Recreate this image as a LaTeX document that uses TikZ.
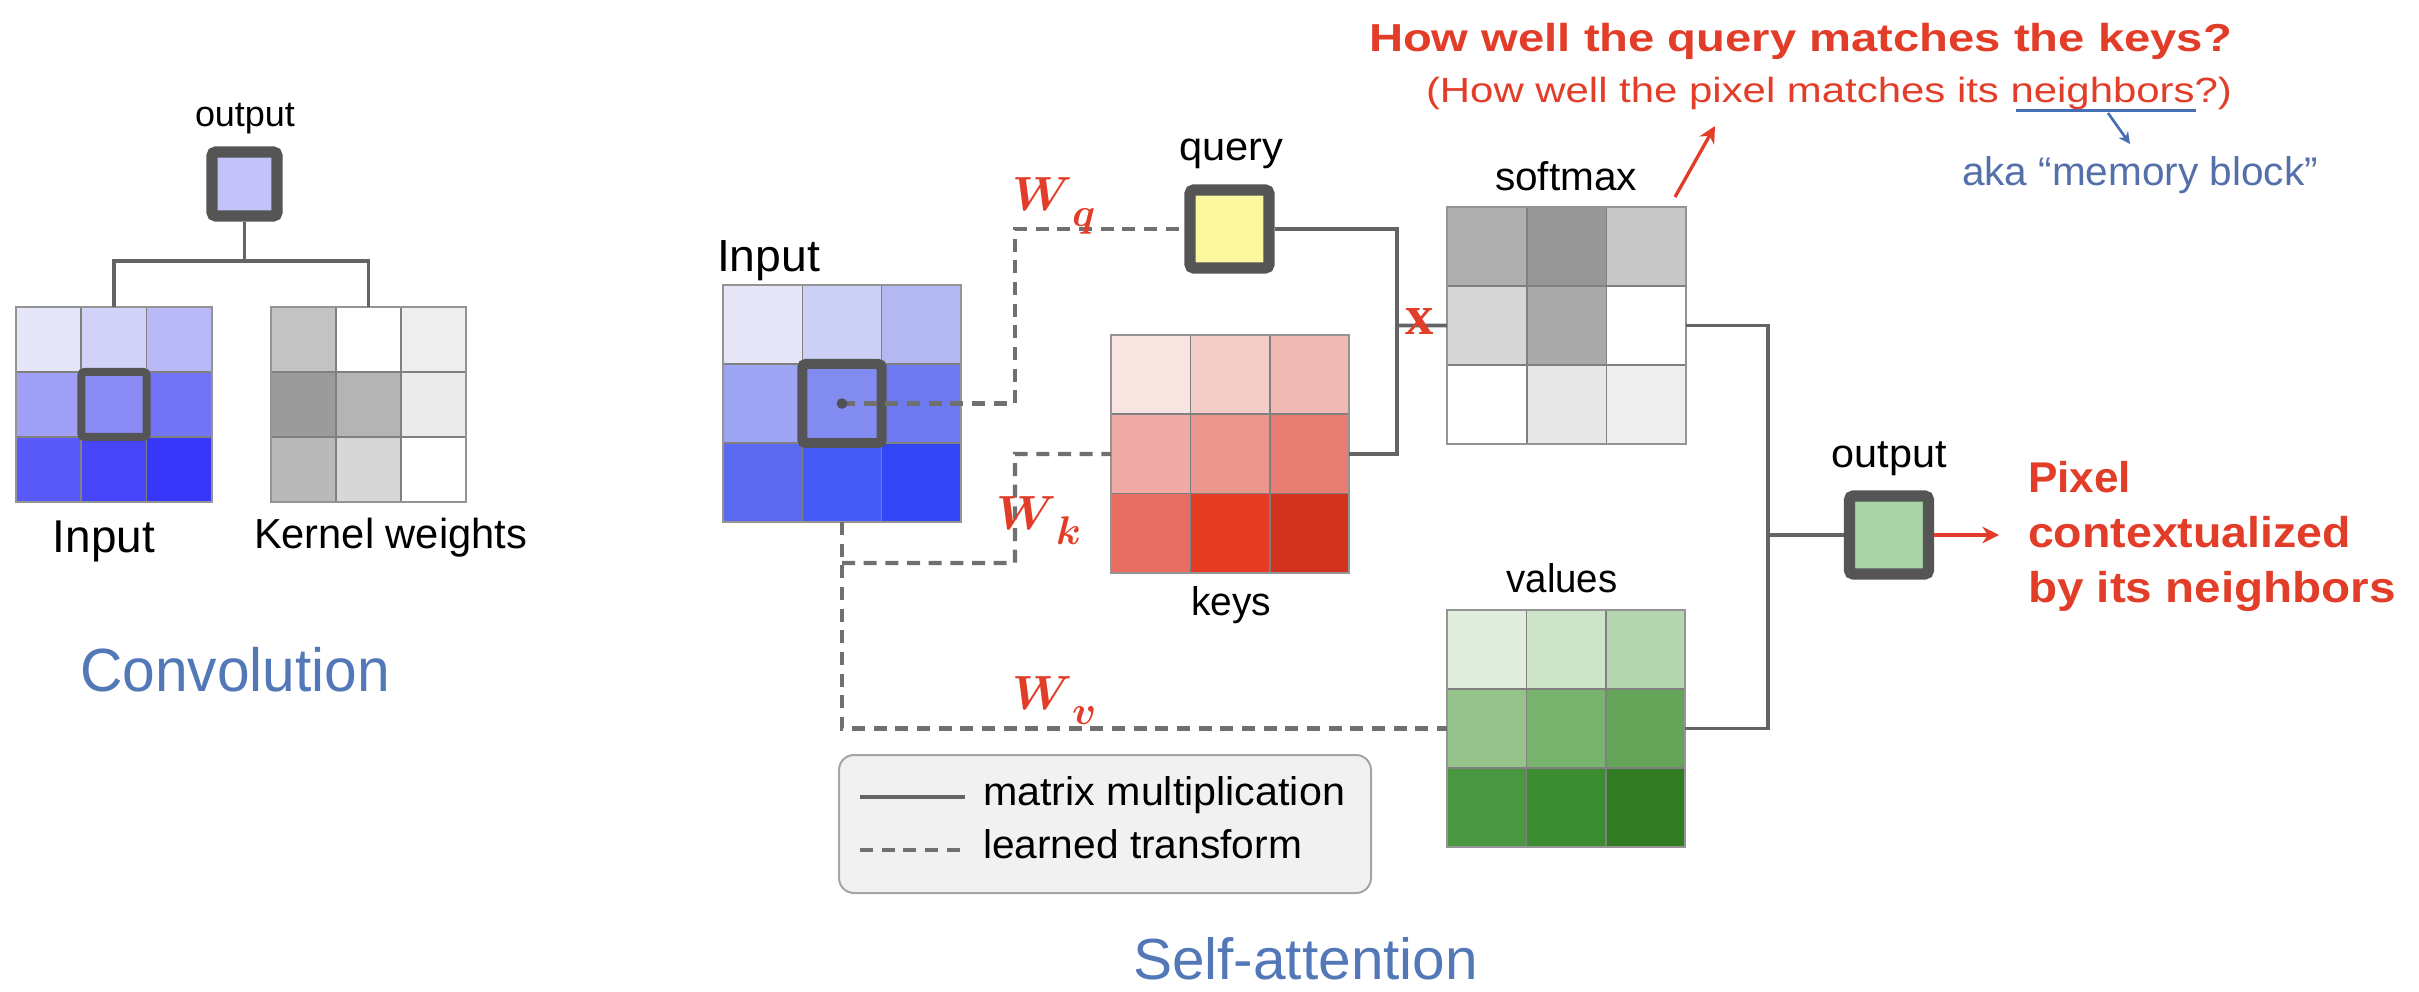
\documentclass[tikz,border=0pt]{standalone}
\usepackage{fontspec}
\setmainfont{Liberation Sans}
\newfontfamily\seriffont{Liberation Serif}
\usepackage{graphicx}
\usepackage{bm}
\usetikzlibrary{fit,arrows.meta}

% one drawing unit = 0.3pt
\newdimen\U \U=0.3pt
\newcommand\fitto[2]{\resizebox{#1\U}{\height}{#2}}
% bold weight symbol with a large lowered index
\newcommand\wsym[1]{$\bm{W}$\raisebox{-0.32em}{\fontsize{11.5}{12}\selectfont$\bm{#1}$}}

% line and label colours
\definecolor{boxgray}{RGB}{85,85,85}
\definecolor{conn}{RGB}{100,100,100}
\definecolor{dconn}{RGB}{112,112,112}
\definecolor{hlred}{RGB}{226,61,40}
\definecolor{titleblue}{RGB}{82,120,184}
\definecolor{akablue}{RGB}{84,112,170}
\definecolor{ulblue}{RGB}{70,110,180}
\definecolor{convout}{RGB}{195,195,250}
\definecolor{qyellow}{RGB}{252,248,160}
\definecolor{outgreen}{RGB}{168,212,165}
\definecolor{legendfill}{RGB}{241,241,241}
\definecolor{legendedge}{RGB}{165,165,165}
\definecolor{dotgray}{RGB}{80,80,85}

% convolution input
\definecolor{ci11}{RGB}{230,230,250}\definecolor{ci12}{RGB}{210,210,248}\definecolor{ci13}{RGB}{185,185,248}
\definecolor{ci21}{RGB}{160,160,248}\definecolor{ci22}{RGB}{138,138,245}\definecolor{ci23}{RGB}{115,115,245}
\definecolor{ci31}{RGB}{90,90,248}\definecolor{ci32}{RGB}{70,70,248}\definecolor{ci33}{RGB}{55,55,250}
% kernel weights
\definecolor{kw11}{RGB}{195,195,195}\definecolor{kw12}{RGB}{255,255,255}\definecolor{kw13}{RGB}{238,238,238}
\definecolor{kw21}{RGB}{155,155,155}\definecolor{kw22}{RGB}{180,180,180}\definecolor{kw23}{RGB}{235,235,235}
\definecolor{kw31}{RGB}{185,185,185}\definecolor{kw32}{RGB}{215,215,215}\definecolor{kw33}{RGB}{255,255,255}
% self-attention input
\definecolor{si11}{RGB}{230,230,248}\definecolor{si12}{RGB}{205,208,245}\definecolor{si13}{RGB}{180,184,242}
\definecolor{si21}{RGB}{158,165,245}\definecolor{si22}{RGB}{130,140,240}\definecolor{si23}{RGB}{110,122,240}
\definecolor{si31}{RGB}{90,105,240}\definecolor{si32}{RGB}{70,90,245}\definecolor{si33}{RGB}{50,70,245}
% keys
\definecolor{ky11}{RGB}{248,228,225}\definecolor{ky12}{RGB}{245,205,200}\definecolor{ky13}{RGB}{240,185,180}
\definecolor{ky21}{RGB}{240,170,165}\definecolor{ky22}{RGB}{235,150,140}\definecolor{ky23}{RGB}{232,125,115}
\definecolor{ky31}{RGB}{232,110,100}\definecolor{ky32}{RGB}{230,60,35}\definecolor{ky33}{RGB}{210,50,30}
% softmax
\definecolor{sm11}{RGB}{175,175,175}\definecolor{sm12}{RGB}{150,150,150}\definecolor{sm13}{RGB}{200,200,200}
\definecolor{sm21}{RGB}{215,215,215}\definecolor{sm22}{RGB}{170,170,170}\definecolor{sm23}{RGB}{255,255,255}
\definecolor{sm31}{RGB}{255,255,255}\definecolor{sm32}{RGB}{232,232,232}\definecolor{sm33}{RGB}{238,238,238}
% values
\definecolor{vl11}{RGB}{225,238,222}\definecolor{vl12}{RGB}{205,228,200}\definecolor{vl13}{RGB}{180,215,175}
\definecolor{vl21}{RGB}{150,195,140}\definecolor{vl22}{RGB}{120,180,110}\definecolor{vl23}{RGB}{100,165,90}
\definecolor{vl31}{RGB}{75,150,65}\definecolor{vl32}{RGB}{60,140,50}\definecolor{vl33}{RGB}{50,125,35}

\tikzset{
  lbl/.style={inner sep=0pt, outer sep=0pt},
  gridline/.style={draw=black!50, line width=0.5pt},
  frame/.style={draw=black!42, line width=0.6pt},
  matmul/.style={draw=conn, line width=1.1pt},
  learned/.style={draw=dconn, line width=1.25pt, dash pattern=on 3.9pt off 2.6pt},
  pixbox/.style={draw=boxgray, line width=3.4pt, rounded corners=1.2pt, inner sep=0pt,
                 minimum width=23.7pt, minimum height=23.4pt},
  hlcell/.style={draw=boxgray, rounded corners=1pt},
  redarrow/.style={draw=hlred, line width=1pt, -{Stealth[length=5pt,width=5pt]}},
  bluearrow/.style={draw=ulblue, line width=0.8pt, -{Stealth[length=3.5pt,width=3.5pt]}},
  wlabel/.style={lbl, anchor=base west, text=hlred, font=\fontsize{14.4}{16}\selectfont},
  small/.style={lbl, font=\fontsize{12}{14}\selectfont},
  redbold/.style={lbl, anchor=base west, text=hlred, font=\fontsize{12.9}{15}\selectfont\bfseries},
}

% 3x3 grid of coloured cells: name, left, top, cell width, cell height
\newcommand\cellgrid[5]{%
  \foreach \ii/\ri in {0/1,1/2,2/3}{\foreach \jj/\rj in {0/1,1/2,2/3}{%
    \edef\cname{#1\ri\rj}%
    \fill[fill=\cname] ({#2+\jj*#4},{#3+\ii*#5}) rectangle ++(#4,#5);}}%
  \foreach \kk in {1,2}{%
    \draw[gridline] ({#2+\kk*#4},#3) -- ++(0,{3*#5});
    \draw[gridline] (#2,{#3+\kk*#5}) -- ++({3*#4},0);}%
  \node[fit={(#2,#3) ({#2+3*#4},{#3+3*#5})}, inner sep=0pt, outer sep=0pt, frame] (#1) {};%
}

\begin{document}
\begin{tikzpicture}[x=0.3pt,y=-0.3pt]
\useasboundingbox (0,0) rectangle (2419,992);
\fill[white] (0,0) rectangle (2419,992);

% ================= Convolution =================
\cellgrid{ci}{16}{307}{65.33}{65}
\draw[hlcell, line width=2.4pt] (81.3,372) rectangle (146.7,437);
\cellgrid{kw}{271}{307}{65}{65}
\node[pixbox, minimum width=19.5pt, minimum height=19.2pt, fill=convout] (cout) at (244.5,184) {};
\node[lbl, anchor=base, font=\fontsize{10.8}{12}\selectfont] (coutlbl) at (245,127) {\fitto{100}{output}};
\coordinate (cjoin) at (244.5,261);
\draw[matmul] (cout.south) -- (cjoin);
\draw[matmul] (ci.north) |- (cjoin) -| (kw.north);
\node[lbl, anchor=base west, font=\fontsize{13.8}{16}\selectfont] (cinlbl) at (53,552) {\fitto{102}{Input}};
\node[lbl, anchor=base west, font=\fontsize{12.6}{15}\selectfont] (kwlbl) at (254,548) {\fitto{273}{Kernel weights}};
\node[lbl, anchor=base west, text=titleblue, font=\fontsize{18.3}{21}\selectfont] (convtitle) at (80,691) {\fitto{310}{Convolution}};

% ================= Self-attention =================
\cellgrid{si}{723}{285}{79.33}{79}
\draw[hlcell, line width=3pt] (802.3,364) rectangle (881.7,443);
\node[lbl, anchor=base west, font=\fontsize{13.5}{16}\selectfont] (silbl) at (717,272) {\fitto{103}{Input}};

\node[pixbox, fill=qyellow] (query) at (1229.5,229) {};
\node[small, anchor=base] (querylbl) at (1231,161) {\fitto{104}{query}};

\cellgrid{ky}{1111}{335}{79.33}{79.33}
\node[small, anchor=base] (kylbl) at (1231,615) {\fitto{80}{keys}};

\cellgrid{sm}{1447}{207}{79.67}{79}
\node[small, anchor=base] (smlbl) at (1566,191) {\fitto{142}{softmax}};

\cellgrid{vl}{1447}{610}{79.33}{79}
\node[small, anchor=base] (vllbl) at (1562,592) {\fitto{111}{values}};

\node[pixbox, fill=outgreen] (sout) at (1889,535) {};
\node[small, anchor=base] (soutlbl) at (1889,467) {\fitto{115}{output}};

% learned transforms (dashed)
\coordinate (qturn) at (1015,229);
\coordinate (kbranch) at (842,563);
\coordinate (kturn) at (1015,454);
\draw[learned] (si.center) -| (qturn) -- (query.west);
\draw[learned] (si.south) |- (vl.west);
\draw[learned] (kbranch) -| (kturn) -- (ky.west);
\fill[dotgray] (si.center) circle (1.6pt);

\node[wlabel] (wq) at (1012,211) {\wsym{q}};
\node[wlabel] (wk) at (996,529) {\wsym{k}};
\node[wlabel] (wv) at (1012,709) {\wsym{v}};

% matrix multiplications (solid)
\coordinate (mul) at (1397,325.5);
\coordinate (sum) at (1768,535);
\draw[matmul] (query.east) -| (mul) |- (ky.east);
\draw[matmul] (mul) -- (sm.west);
\draw[matmul] (sm.east) -| (sum) |- (vl.east);
\draw[matmul] (sum) -- (sout.west);
\node[lbl, text=hlred, font=\fontsize{17}{18}\selectfont\seriffont\bfseries] (times) at (1420,321) {x};

% legend
\node[fit={(839,755) (1371,893)}, inner sep=0pt, draw=legendedge, fill=legendfill,
      rounded corners=4.5pt, line width=0.6pt] (legend) {};
\coordinate (lsA) at (860,797); \coordinate (lsB) at (965,797);
\coordinate (ldA) at (860,850); \coordinate (ldB) at (965,850);
\draw[matmul] (lsA) -- (lsB);
\draw[learned] (ldA) -- (ldB);
\node[small, anchor=base west] (legmm) at (983,805) {\fitto{362}{matrix multiplication}};
\node[small, anchor=base west] (leglt) at (983,858) {\fitto{319}{learned transform}};

\node[lbl, anchor=base west, text=titleblue, font=\fontsize{17.4}{20}\selectfont] (satitle) at (1133,979) {\fitto{345}{Self-attention}};

% ================= annotations =================
\node[lbl, anchor=base west, text=hlred, font=\fontsize{11.7}{14}\selectfont\bfseries] (question) at (1369,52)
  {\fitto{863}{How well the query matches the keys?}};
\node[lbl, anchor=base west, text=hlred, font=\fontsize{10.5}{13}\selectfont] (subq) at (1426,103)
  {\fitto{806}{(How well the pixel matches its neighbors?)}};
\coordinate (ulA) at (2016,111); \coordinate (ulB) at (2196,111);
\draw[draw=ulblue, line width=0.9pt] (ulA) -- (ulB);
\coordinate (akaS) at (2108,113); \coordinate (akaT) at (2130,144);
\draw[bluearrow] (akaS) -- (akaT);
\node[lbl, anchor=base west, text=akablue, font=\fontsize{12}{14}\selectfont] (aka) at (1962,186)
  {\fitto{356}{aka “memory block”}};

\coordinate (smtip) at (1715,126);
\draw[redarrow] ([shift={(-11,-10)}]sm.north east) -- (smtip);

\coordinate (pxtip) at (1999,535);
\draw[redarrow] (sout.east) -- (pxtip);
\node[redbold] (px1) at (2028,492) {\fitto{103}{Pixel}};
\node[redbold] (px2) at (2028,547) {\fitto{323}{contextualized}};
\node[redbold] (px3) at (2028,602) {\fitto{368}{by its neighbors}};
\end{tikzpicture}
\end{document}
